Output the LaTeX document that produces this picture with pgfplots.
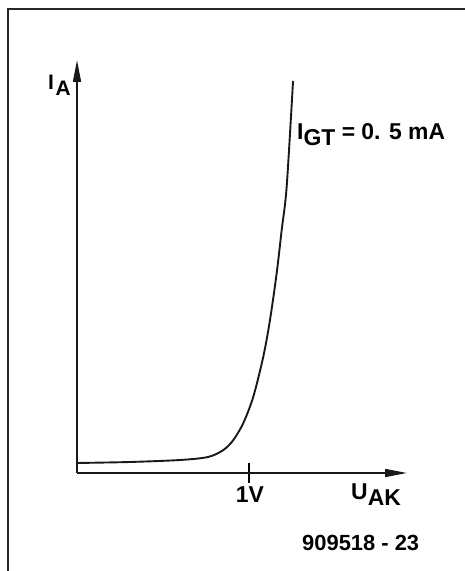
\documentclass[border=0pt]{standalone}
\usepackage{pgfplots}
\pgfplotsset{compat=1.18}
\usepackage{fontspec}
\setmainfont{Liberation Sans}
\usetikzlibrary{arrows.meta}
\newcommand\sub[1]{\raisebox{-6bp}{#1}}
\begin{document}
\begin{tikzpicture}[x=1bp,y=1bp]
\useasboundingbox (0,0) rectangle (465,571);
\draw[line width=1.8bp, black!85] (8,0) -- (8,562) -- (465,562);
\begin{axis}[
  at={(77bp,98bp)}, anchor=south west,
  scale only axis, width=330bp, height=413bp,
  xmin=0, xmax=1.9186, ymin=0, ymax=4.13,
  axis lines=left,
  axis line style={line width=1.6bp, black!90, -{Triangle[length=22bp,width=8bp]}},
  xtick={1}, xticklabels={}, ytick=\empty,
  xtick align=center, major tick length=20bp,
  tick style={line width=1.5bp, black},
  clip=false,
]
\addplot[line width=1.9bp, black!90, smooth, tension=0.5] coordinates {
(0,0.10) (0.308,0.11) (0.599,0.13) (0.762,0.16) (0.851,0.23) (0.909,0.33)
(0.967,0.50) (1.025,0.763) (1.083,1.163) (1.122,1.53) (1.161,2.00)
(1.190,2.43) (1.219,2.863) (1.256,3.92)
};
\end{axis}
\node[anchor=base west, inner sep=0pt, font=\fontsize{21}{24}\selectfont\bfseries] at (48,481) {I\kern1.5bp\sub{A}};
\node[anchor=base west, inner sep=0pt, font=\fontsize{23}{27}\selectfont\bfseries] at (297,431) {I\sub{GT} = 0. 5 mA};
\node[anchor=base, inner sep=0pt, font=\fontsize{23}{26}\selectfont\bfseries] at (250,68) {1V};
\node[anchor=base west, inner sep=0pt, font=\fontsize{23}{26}\selectfont\bfseries] at (351,71) {U\sub{AK}};
\node[anchor=base west, inner sep=0pt, font=\fontsize{22}{25}\selectfont\bfseries] at (302,20) {909518 - 23};
\end{tikzpicture}
\end{document}
